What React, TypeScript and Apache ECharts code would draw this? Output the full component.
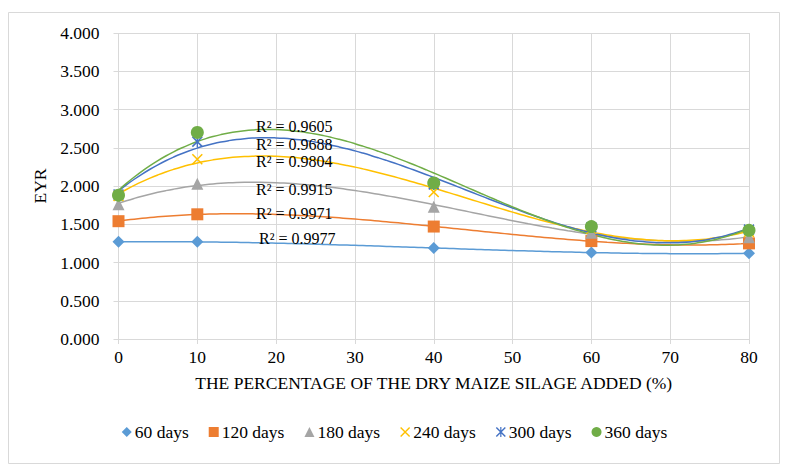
import React, { useEffect, useRef } from "react";
import * as echarts from "echarts";

const xValues = [0, 10, 40, 60, 80];
const seriesNames = ["60 days", "120 days", "180 days", "240 days", "300 days", "360 days"];
const days60 = [1.27, 1.27, 1.19, 1.13, 1.12];
const days120 = [1.54, 1.63, 1.47, 1.28, 1.25];
const days180 = [1.76, 2.03, 1.73, 1.39, 1.33];
const days240 = [1.87, 2.35, 1.92, 1.44, 1.4];
const days300 = [1.89, 2.58, 2.02, 1.46, 1.43];
const days360 = [1.88, 2.7, 2.04, 1.47, 1.42];
const r2Labels = ["R² = 0.9977", "R² = 0.9971", "R² = 0.9915", "R² = 0.9804", "R² = 0.9688", "R² = 0.9605"];
const xTicks = [0, 10, 20, 30, 40, 50, 60, 70, 80];

const allSeries = [days60, days120, days180, days240, days300, days360];
const colors = ["#5B9BD5", "#ED7D31", "#A5A5A5", "#FFC000", "#4472C4", "#70AD47"];

const crossPath =
  "path://M0,1 L1,0 L10,9 L9,10 Z M9,0 L10,1 L1,10 L0,9 Z";
const starPath =
  "path://M0,1 L1,0 L10,9 L9,10 Z M9,0 L10,1 L1,10 L0,9 Z M4.4,0 L5.6,0 L5.6,10 L4.4,10 Z";
const symbols = ["diamond", "rect", "triangle", crossPath, starPath, "circle"];
const symbolSizes = [12, 12, 12, 11, 11, 13];

// least-squares cubic trendline (as Excel polynomial order 3)
function cubicFit(xs: number[], ys: number[]) {
  const n = 4;
  const A: number[][] = [];
  for (let i = 0; i < n; i++) {
    A.push(new Array(n + 1).fill(0));
    for (let j = 0; j < n; j++) {
      let s = 0;
      for (let k = 0; k < xs.length; k++) s += Math.pow(xs[k], i + j);
      A[i][j] = s;
    }
    let t = 0;
    for (let k = 0; k < xs.length; k++) t += ys[k] * Math.pow(xs[k], i);
    A[i][n] = t;
  }
  for (let c = 0; c < n; c++) {
    let p = c;
    for (let r = c + 1; r < n; r++) if (Math.abs(A[r][c]) > Math.abs(A[p][c])) p = r;
    [A[c], A[p]] = [A[p], A[c]];
    for (let r = 0; r < n; r++) {
      if (r === c) continue;
      const f = A[r][c] / A[c][c];
      for (let j = c; j <= n; j++) A[r][j] -= f * A[c][j];
    }
  }
  const coef = A.map((row, i) => row[n] / row[i]);
  return (x: number) => coef[0] + coef[1] * x + coef[2] * x * x + coef[3] * x * x * x;
}

export default function App() {
  const ref = useRef<HTMLDivElement>(null);
  useEffect(() => {
    if (!ref.current) return;
    const chart = echarts.init(ref.current, null, { renderer: "svg" });
    const font = "Liberation Serif";
    const fs = 17.5;

    const trendSeries = allSeries.map((ys, i) => {
      const f = cubicFit(xValues, ys);
      const pts: number[][] = [];
      for (let x = xValues[0]; x <= xValues[xValues.length - 1]; x += 1) pts.push([x, f(x)]);
      return {
        name: "trend " + seriesNames[i],
        type: "line",
        data: pts,
        showSymbol: false,
        smooth: true,
        lineStyle: { color: colors[i], width: 1.5 },
        z: 1,
        silent: true,
      };
    });

    const scatterSeries = allSeries.map((ys, i) => ({
      name: seriesNames[i],
      type: "scatter",
      data: xValues.map((x, k) => [x, ys[k]]),
      symbol: symbols[i],
      symbolSize: symbolSizes[i],
      itemStyle: { color: colors[i], opacity: 1 },
      z: 3,
    }));

    const r2Y = [238, 213, 189, 161, 144, 126];
    const r2X = [259, 256, 256, 256, 256, 256];

    chart.setOption({
      animation: false,
      textStyle: { fontFamily: font },
      grid: { left: 118.5, right: 40, top: 33, bottom: 134, containLabel: false },
      xAxis: {
        type: "value",
        min: 0,
        max: 80,
        interval: 10,
        name: "THE PERCENTAGE OF THE DRY MAIZE SILAGE ADDED (%)",
        nameLocation: "middle",
        nameGap: 35,
        nameTextStyle: { fontSize: fs, color: "#000", fontFamily: font },
        axisLine: { show: true, lineStyle: { color: "#D9D9D9" } },
        axisTick: { show: true, length: 5, lineStyle: { color: "#D9D9D9" } },
        axisLabel: {
          fontSize: fs,
          color: "#000",
          fontFamily: font,
          margin: 9,
          customValues: xTicks,
        },
        splitLine: { show: true, lineStyle: { color: "#D9D9D9", width: 1 } },
      },
      yAxis: {
        type: "value",
        min: 0,
        max: 4,
        interval: 0.5,
        name: "EYR",
        nameLocation: "middle",
        nameGap: 69,
        nameRotate: 90,
        nameTextStyle: { fontSize: fs, color: "#000", fontFamily: font },
        axisLine: { show: false },
        axisTick: { show: true, length: 5, lineStyle: { color: "#D9D9D9" } },
        axisLabel: {
          fontSize: fs,
          color: "#000",
          fontFamily: font,
          margin: 19,
          formatter: (v: number) => v.toFixed(3),
        },
        splitLine: { show: true, lineStyle: { color: "#D9D9D9", width: 1 } },
      },
      legend: {
        data: seriesNames,
        bottom: 27,
        left: "center",
        itemWidth: 10,
        itemHeight: 10,
        itemGap: 20,
        textStyle: { fontSize: fs, color: "#000", fontFamily: font, padding: [0, 0, 0, -2] },
      },
      graphic: [
        {
          type: "rect",
          shape: { x: 8.5, y: 12.5, width: 771, height: 451 },
          style: { fill: "none", stroke: "#D9D9D9", lineWidth: 1 },
          silent: true,
          z: -1,
        },
        ...r2Labels.map((t, i) => ({
          type: "text",
          x: r2X[i],
          y: r2Y[i],
          style: {
            text: t,
            fill: "#000",
            font: `16px ${font}`,
            verticalAlign: "middle",
          },
          z: 10,
        })),
      ],
      series: [...trendSeries, ...scatterSeries],
    });
    return () => chart.dispose();
  }, []);
  return (
    <div
      ref={ref}
      style={{ position: "fixed", left: 0, top: 0, width: 789, height: 473, background: "#fff" }}
    />
  );
}
